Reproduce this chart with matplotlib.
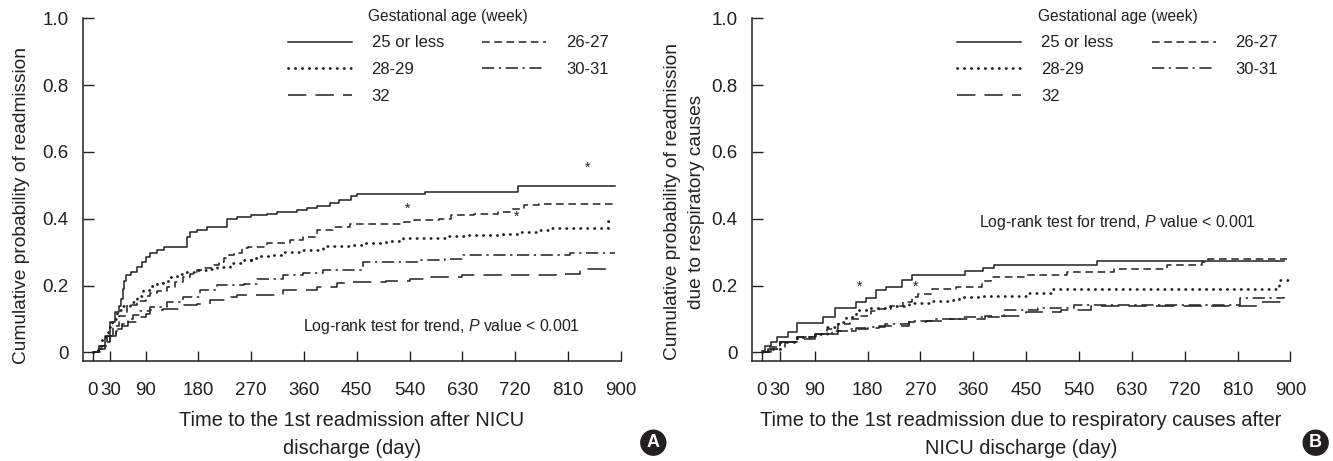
import matplotlib
matplotlib.use("Agg")
import matplotlib.pyplot as plt

plt.rcParams['font.family'] = ['Liberation Sans', 'DejaVu Sans']
plt.rcParams['mathtext.fontset'] = 'custom'
plt.rcParams['mathtext.rm'] = 'Liberation Sans'
plt.rcParams['mathtext.it'] = 'Liberation Sans:italic'

INK = '#231f20'

# ---- data (day, cumulative probability) ----
# Panel A: any readmission
a25_t = [0, 10, 20, 30, 38, 44, 48, 51, 53, 57, 65, 75, 83, 90, 98, 109, 122, 160, 166, 177, 194, 229, 245,
         270, 297, 314, 348, 365, 382, 404, 420, 441, 450, 566, 725, 890]
a25_p = [0, 0.02, 0.05, 0.09, 0.12, 0.14, 0.16, 0.19, 0.215, 0.23, 0.24, 0.255, 0.27, 0.285, 0.297, 0.307,
         0.315, 0.345, 0.36, 0.366, 0.376, 0.40, 0.405, 0.41, 0.415, 0.42, 0.426, 0.432, 0.438, 0.448, 0.455,
         0.468, 0.475, 0.481, 0.497, 0.497]

a26_t = [0, 12, 24, 35, 45, 58, 75, 90, 98, 110, 126, 140, 154, 165, 177, 190, 206, 215, 223, 232, 240, 254,
         264, 297, 336, 359, 382, 410, 439, 530, 548, 590, 610, 650, 690, 715, 735, 760, 890]
a26_p = [0, 0.02, 0.05, 0.08, 0.11, 0.142, 0.155, 0.17, 0.177, 0.185, 0.196, 0.21, 0.226, 0.235, 0.246, 0.252,
         0.261, 0.27, 0.281, 0.29, 0.296, 0.311, 0.316, 0.326, 0.336, 0.346, 0.366, 0.376, 0.383, 0.39, 0.395,
         0.40, 0.41, 0.415, 0.42, 0.43, 0.44, 0.443, 0.443]

a28_t = [0, 8, 16, 25, 33, 41, 52, 64, 75, 86, 98, 109, 120, 132, 143, 154, 177, 195, 211, 234, 257, 270, 280,
         302, 325, 359, 393, 439, 459, 500, 528, 600, 640, 700, 730, 760, 780, 878, 888]
a28_p = [0, 0.02, 0.045, 0.075, 0.10, 0.127, 0.14, 0.15, 0.17, 0.187, 0.20, 0.207, 0.215, 0.226, 0.235, 0.241,
         0.246, 0.25, 0.256, 0.266, 0.276, 0.283, 0.288, 0.29, 0.301, 0.306, 0.318, 0.321, 0.327, 0.333, 0.343,
         0.347, 0.352, 0.355, 0.36, 0.366, 0.372, 0.392, 0.392]

a30_t = [0, 10, 20, 30, 40, 50, 60, 69, 80, 98, 126, 154, 183, 211, 257, 280, 325, 359, 393, 460, 560, 600,
         632, 814, 890]
a30_p = [0, 0.01, 0.03, 0.05, 0.07, 0.085, 0.10, 0.112, 0.125, 0.137, 0.152, 0.166, 0.187, 0.201, 0.205,
         0.221, 0.231, 0.238, 0.246, 0.27, 0.275, 0.28, 0.29, 0.297, 0.297]

a32_t = [0, 10, 20, 30, 40, 50, 60, 75, 90, 98, 120, 154, 177, 200, 223, 245, 325, 382, 416, 439, 500, 540,
         565, 630, 790, 830, 890]
a32_p = [0, 0.01, 0.03, 0.05, 0.065, 0.08, 0.09, 0.107, 0.115, 0.127, 0.13, 0.142, 0.146, 0.157, 0.166, 0.171,
         0.187, 0.196, 0.207, 0.211, 0.215, 0.22, 0.225, 0.23, 0.235, 0.25, 0.25]

# Panel B: readmission due to respiratory causes
b25_t = [0, 5, 15, 25, 45, 59, 104, 124, 161, 178, 195, 212, 238, 255, 345, 377, 395, 571, 890]
b25_p = [0.005, 0.02, 0.03, 0.045, 0.06, 0.087, 0.105, 0.132, 0.152, 0.162, 0.187, 0.195, 0.216, 0.232, 0.242,
         0.252, 0.262, 0.272, 0.272]

b26_t = [0, 10, 30, 60, 90, 110, 130, 150, 165, 185, 200, 220, 240, 255, 265, 290, 330, 375, 390, 450, 520,
         600, 690, 750, 760, 895]
b26_p = [0, 0.015, 0.03, 0.045, 0.055, 0.07, 0.085, 0.10, 0.11, 0.125, 0.13, 0.14, 0.15, 0.165, 0.175, 0.19,
         0.195, 0.215, 0.225, 0.23, 0.24, 0.25, 0.262, 0.27, 0.279, 0.279]

b28_t = [0, 10, 30, 60, 90, 110, 130, 144, 161, 180, 218, 250, 290, 318, 335, 375, 432, 450, 494, 880, 900]
b28_p = [0, 0.01, 0.03, 0.045, 0.055, 0.075, 0.09, 0.107, 0.128, 0.132, 0.138, 0.148, 0.155, 0.158, 0.165,
         0.168, 0.17, 0.177, 0.19, 0.216, 0.216]

b30_t = [0, 10, 30, 60, 90, 120, 150, 180, 210, 250, 291, 340, 413, 470, 531, 810, 815, 890]
b30_p = [0, 0.01, 0.03, 0.045, 0.055, 0.065, 0.07, 0.075, 0.085, 0.095, 0.10, 0.107, 0.127, 0.132, 0.142, 0.142,
         0.163, 0.165]

b32_t = [0, 15, 40, 60, 90, 130, 161, 200, 250, 280, 320, 380, 450, 510, 560, 830, 845, 890]
b32_p = [0, 0.01, 0.03, 0.04, 0.055, 0.065, 0.073, 0.08, 0.09, 0.095, 0.10, 0.11, 0.12, 0.127, 0.14, 0.14,
         0.15, 0.155]

group_labels = ['25 or less', '26-27', '28-29', '30-31', '32']
x_ticks = [0, 30, 90, 180, 270, 360, 450, 540, 630, 720, 810, 900]
y_ticks = [0, 0.2, 0.4, 0.6, 0.8, 1.0]
y_tick_labels = ['0', '0.2', '0.4', '0.6', '0.8', '1.0']

styles = [
    dict(linestyle='-', lw=1.1),
    dict(linestyle=(0, (5, 3)), lw=1.1),
    dict(linestyle=(0, (0.1, 2.4)), lw=2.0, dash_capstyle='round'),
    dict(linestyle=(0, (8, 3, 1.5, 3)), lw=1.1),
    dict(linestyle=(0, (12, 6)), lw=1.1),
]


def draw_panel(ax, series, ylabel, xlabel, ylab_xy, xlab_y, logrank_xy, stars):
    lines = []
    for (t, p), st, lab in zip(series, styles, group_labels):
        ln, = ax.step(t, p, where='post', color=INK, label=lab, **st)
        lines.append(ln)

    for s in ['top', 'right']:
        ax.spines[s].set_visible(False)
    for s in ['left', 'bottom']:
        ax.spines[s].set_linewidth(1.1)
        ax.spines[s].set_color(INK)
    ax.set_xlim(-17.5, 900)
    ax.set_ylim(-0.026, 1.0)
    ax.set_xticks(x_ticks)
    ax.set_yticks(y_ticks)
    ax.set_yticklabels(y_tick_labels)
    ax.tick_params(axis='y', direction='in', length=8, width=1, pad=10, labelsize=13.5, colors=INK)
    ax.tick_params(axis='x', direction='in', length=7.5, width=1, pad=15, labelsize=13.5, colors=INK)

    ax.set_ylabel(ylabel, fontsize=13.8, color=INK, linespacing=1.6)
    ax.yaxis.set_label_coords(*ylab_xy)
    ax.set_xlabel(xlabel, fontsize=14.4, color=INK, linespacing=1.6)
    ax.xaxis.set_label_coords(0.5, xlab_y)

    ax.text(logrank_xy[0], logrank_xy[1], 'Log-rank test for trend, $P$ value < 0.001',
            fontsize=11.4, va='center', ha='left', color=INK)
    for sx, sy in stars:
        ax.text(sx, sy, '*', fontsize=10, ha='center', va='center', color=INK)

    order = [0, 2, 4, 1, 3]
    leg = ax.legend([lines[i] for i in order], [group_labels[i] for i in order], ncol=2,
                    title='Gestational age (week)', title_fontsize=11.2, fontsize=12, frameon=False,
                    loc='upper left', bbox_to_anchor=(0.381, 1.028), borderpad=0, borderaxespad=0,
                    handlelength=3.84, handletextpad=1.2, columnspacing=2.3, labelspacing=0.7)
    for txt in leg.get_texts():
        txt.set_color(INK)
    leg.get_title().set_color(INK)


fig = plt.figure(figsize=(13.33, 4.61), dpi=100)
axA = fig.add_axes([0.0620, 0.2169, 0.4036, 0.7434])
axB = fig.add_axes([0.5639, 0.2169, 0.4041, 0.7434])

draw_panel(axA,
           [(a25_t, a25_p), (a26_t, a26_p), (a28_t, a28_p), (a30_t, a30_p), (a32_t, a32_p)],
           'Cumulative probability of readmission',
           'Time to the 1st readmission after NICU\ndischarge (day)',
           (-0.098, 0.455), -0.146, (358, 0.076),
           [(843, 0.553), (536, 0.431), (723, 0.406)])

draw_panel(axB,
           [(b25_t, b25_p), (b26_t, b26_p), (b28_t, b28_p), (b30_t, b30_p), (b32_t, b32_p)],
           'Cumulative probability of readmission\ndue to respiratory causes',
           'Time to the 1st readmission due to respiratory causes after\nNICU discharge (day)',
           (-0.086, 0.465), -0.146, (369, 0.388),
           [(167, 0.195), (261, 0.195)])

for x, letter in [(0.4901, 'A'), (0.9870, 'B')]:
    fig.text(x, 0.0397, letter, fontsize=13, fontweight='bold', color='white', ha='center', va='center',
             bbox=dict(boxstyle='circle,pad=0.22', fc=INK, ec=INK))

fig.savefig('out.png', dpi=100)
